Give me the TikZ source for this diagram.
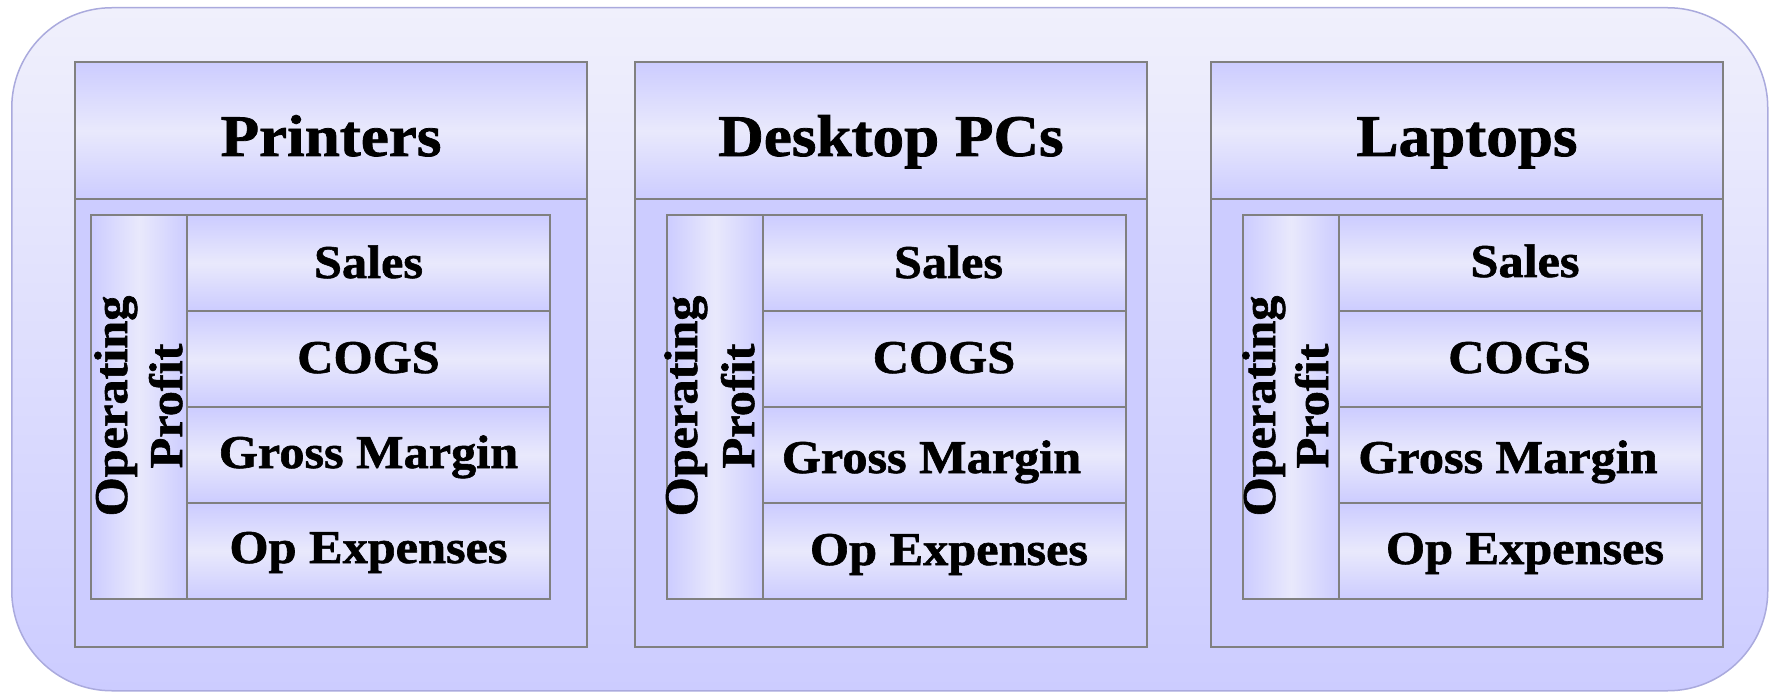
\documentclass[tikz,border=0pt]{standalone}
\usepackage{fontspec}
\newfontfamily\diafont[FakeStretch=1.07, FakeBold=1.3]{Liberation Serif}

\definecolor{lav}{HTML}{CCCCFF}
\definecolor{lavlight}{HTML}{E9E9FC}
\definecolor{lavtop}{HTML}{F0F0FC}
\definecolor{rim}{HTML}{AAAADD}
\definecolor{edge}{HTML}{808080}

\tikzset{
  panelbox/.style={draw=rim, line width=1.5pt, top color=lavtop, bottom color=lav,
    rounded corners=100pt, inner sep=0pt, anchor=north west},
  block/.style={draw=edge, line width=2pt, inner sep=0pt, outer sep=0pt, anchor=north west},
  headbox/.style={block, top color=lav, bottom color=lav, middle color=lavlight},
  bodybox/.style={block, fill=lav},
  rowbox/.style={block, top color=lav, bottom color=lav, middle color=lavlight},
  colbox/.style={block, left color=lav, right color=lav, middle color=lavlight},
  titletext/.style={font=\diafont\bfseries\fontsize{59}{61}\selectfont, anchor=base, inner sep=0pt},
  celltext/.style={font=\diafont\bfseries\fontsize{47}{54}\selectfont, anchor=base, inner sep=0pt},
  sidetext/.style={celltext, rotate=90},
}

% one product segment: #1 id, #2 left edge of the box, #3 left edge of the table, #4 title
\newcommand\segment[4]{%
  \node[bodybox, minimum width=512pt, minimum height=448pt] (body#1) at (#2,199) {};
  \node[headbox, minimum width=512pt, minimum height=137pt] (head#1) at (#2,62) {};
  \node[colbox, minimum width=96pt, minimum height=384pt] (col#1) at (#3,215) {};
  \foreach \k/\y in {1/215,2/311,3/407,4/503}
    \node[rowbox, minimum width=363pt, minimum height=96pt] (row#1-\k) at (#3+96,\y) {};
  \node[titletext] (title#1) at (#2+256,156) {#4};
}

\begin{document}
\begin{tikzpicture}[x=1pt, y=-1pt]
  \useasboundingbox (0,0) rectangle (1769,692);
  \node[panelbox, minimum width=1756pt, minimum height=683pt] (panel) at (11,7) {};

  \segment{1}{75}{91}{Printers}
  \segment{2}{635}{667}{Desktop PCs}
  \segment{3}{1211}{1243}{Laptops}

  % Printers
  \node[celltext] (sales1) at (368.5,278) {Sales};
  \node[celltext] (cogs1)  at (368.5,373) {COGS};
  \node[celltext] (gross1) at (368.5,468) {Gross Margin};
  \node[celltext] (opex1)  at (368.5,563) {Op Expenses};
  \node[sidetext] (opa1) at (127,406) {Operating};
  \node[sidetext] (opb1) at (182,406) {Profit};

  % Desktop PCs
  \node[celltext] (sales2) at (948.5,278) {Sales};
  \node[celltext] (cogs2)  at (944,373) {COGS};
  \node[celltext] (gross2) at (931.5,473) {Gross Margin};
  \node[celltext] (opex2)  at (949,565) {Op Expenses};
  \node[sidetext] (opa2) at (697,406) {Operating};
  \node[sidetext] (opb2) at (754,406) {Profit};

  % Laptops
  \node[celltext] (sales3) at (1525,277) {Sales};
  \node[celltext] (cogs3)  at (1519.5,373) {COGS};
  \node[celltext] (gross3) at (1508,473) {Gross Margin};
  \node[celltext] (opex3)  at (1525,564) {Op Expenses};
  \node[sidetext] (opa3) at (1275,406) {Operating};
  \node[sidetext] (opb3) at (1328,406) {Profit};
\end{tikzpicture}
\end{document}
